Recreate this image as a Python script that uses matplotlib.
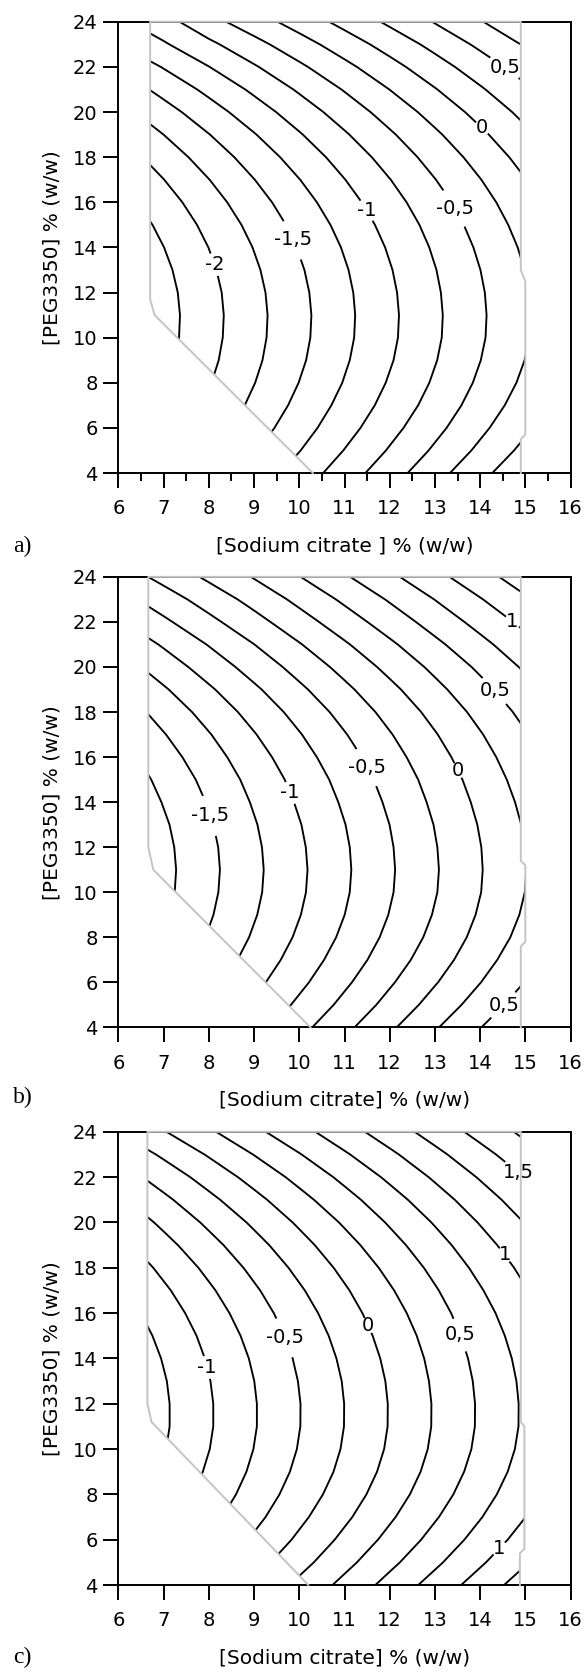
import numpy as np
import matplotlib
matplotlib.use("Agg")
import matplotlib.pyplot as plt
from matplotlib.patches import Polygon
from matplotlib.ticker import MultipleLocator

# response on a grid (rows: y = 4..24 step 1, cols: x = 6..16)
x_nodes = [6, 7, 8, 9, 10, 11, 12, 13, 14, 15, 16]
y_nodes = list(range(4, 25))

z_a = [
    [-2.210, -1.943, -1.675, -1.408, -1.141, -0.874, -0.606, -0.339, -0.072, 0.195, 0.463],
    [-2.316, -2.052, -1.787, -1.522, -1.258, -0.993, -0.728, -0.463, -0.199, 0.066, 0.331],
    [-2.406, -2.143, -1.881, -1.618, -1.356, -1.093, -0.830, -0.568, -0.305, -0.043, 0.220],
    [-2.479, -2.218, -1.957, -1.696, -1.435, -1.174, -0.914, -0.653, -0.392, -0.131, 0.130],
    [-2.535, -2.275, -2.015, -1.756, -1.496, -1.237, -0.977, -0.718, -0.458, -0.199, 0.061],
    [-2.574, -2.315, -2.056, -1.798, -1.539, -1.280, -1.022, -0.763, -0.504, -0.246, 0.013],
    [-2.596, -2.338, -2.079, -1.821, -1.563, -1.305, -1.047, -0.789, -0.531, -0.272, -0.014],
    [-2.601, -2.343, -2.085, -1.827, -1.569, -1.311, -1.053, -0.795, -0.537, -0.279, -0.021],
    [-2.588, -2.330, -2.073, -1.815, -1.557, -1.300, -1.042, -0.784, -0.527, -0.269, -0.011],
    [-2.557, -2.300, -2.043, -1.786, -1.529, -1.273, -1.016, -0.759, -0.502, -0.245, 0.012],
    [-2.508, -2.252, -1.997, -1.741, -1.485, -1.230, -0.974, -0.718, -0.462, -0.207, 0.049],
    [-2.441, -2.187, -1.933, -1.679, -1.425, -1.171, -0.917, -0.663, -0.408, -0.154, 0.100],
    [-2.356, -2.104, -1.852, -1.600, -1.348, -1.096, -0.844, -0.592, -0.340, -0.088, 0.164],
    [-2.253, -2.003, -1.754, -1.504, -1.255, -1.005, -0.756, -0.506, -0.257, -0.007, 0.243],
    [-2.132, -1.885, -1.638, -1.392, -1.145, -0.899, -0.652, -0.405, -0.159, 0.088, 0.334],
    [-1.992, -1.749, -1.506, -1.263, -1.019, -0.776, -0.533, -0.290, -0.047, 0.197, 0.440],
    [-1.835, -1.595, -1.356, -1.116, -0.877, -0.638, -0.398, -0.159, 0.080, 0.320, 0.559],
    [-1.659, -1.424, -1.189, -0.954, -0.719, -0.484, -0.248, -0.013, 0.222, 0.457, 0.692],
    [-1.465, -1.235, -1.004, -0.774, -0.544, -0.313, -0.083, 0.148, 0.378, 0.608, 0.839],
    [-1.253, -1.028, -0.803, -0.578, -0.352, -0.127, 0.098, 0.323, 0.549, 0.774, 0.999],
    [-1.050, -0.840, -0.584, -0.364, -0.145, 0.075, 0.295, 0.514, 0.734, 0.954, 1.173],
]
z_b = [
    [-1.645, -1.378, -1.110, -0.843, -0.576, -0.309, -0.041, 0.226, 0.493, 0.760, 1.028],
    [-1.759, -1.495, -1.230, -0.965, -0.701, -0.436, -0.171, 0.095, 0.359, 0.624, 0.889],
    [-1.856, -1.593, -1.331, -1.068, -0.806, -0.543, -0.280, -0.018, 0.245, 0.507, 0.770],
    [-1.937, -1.676, -1.415, -1.154, -0.893, -0.632, -0.372, -0.111, 0.151, 0.412, 0.673],
    [-2.000, -1.740, -1.480, -1.221, -0.961, -0.702, -0.442, -0.183, 0.077, 0.336, 0.596],
    [-2.044, -1.785, -1.526, -1.268, -1.009, -0.751, -0.492, -0.233, 0.026, 0.284, 0.543],
    [-2.071, -1.813, -1.554, -1.296, -1.038, -0.780, -0.522, -0.264, -0.006, 0.253, 0.511],
    [-2.079, -1.821, -1.563, -1.305, -1.047, -0.789, -0.531, -0.273, -0.015, 0.244, 0.502],
    [-2.068, -1.810, -1.553, -1.295, -1.037, -0.780, -0.522, -0.264, -0.007, 0.251, 0.509],
    [-2.040, -1.783, -1.526, -1.269, -1.012, -0.756, -0.499, -0.242, 0.016, 0.273, 0.530],
    [-1.993, -1.737, -1.482, -1.226, -0.970, -0.715, -0.459, -0.203, 0.053, 0.308, 0.564],
    [-1.934, -1.680, -1.426, -1.172, -0.918, -0.664, -0.410, -0.156, 0.100, 0.354, 0.608],
    [-1.856, -1.604, -1.352, -1.100, -0.848, -0.596, -0.344, -0.092, 0.160, 0.412, 0.664],
    [-1.763, -1.513, -1.264, -1.014, -0.765, -0.515, -0.266, -0.016, 0.233, 0.483, 0.733],
    [-1.652, -1.405, -1.158, -0.912, -0.665, -0.419, -0.172, 0.075, 0.321, 0.568, 0.814],
    [-1.520, -1.277, -1.034, -0.791, -0.547, -0.304, -0.061, 0.183, 0.426, 0.670, 0.913],
    [-1.370, -1.130, -0.891, -0.651, -0.412, -0.173, 0.067, 0.306, 0.545, 0.785, 1.024],
    [-1.207, -0.972, -0.737, -0.502, -0.265, -0.029, 0.208, 0.445, 0.681, 0.917, 1.153],
    [-1.025, -0.795, -0.564, -0.334, -0.102, 0.132, 0.365, 0.598, 0.831, 1.063, 1.297],
    [-0.843, -0.618, -0.393, -0.168, 0.063, 0.294, 0.524, 0.754, 0.985, 1.216, 1.446],
    [-0.643, -0.424, -0.204, 0.016, 0.243, 0.471, 0.699, 0.926, 1.154, 1.382, 1.609],
]
z_c = [
    [-0.997, -0.734, -0.470, -0.207, 0.057, 0.320, 0.584, 0.847, 1.111, 1.374, 1.638],
    [-1.134, -0.871, -0.609, -0.346, -0.084, 0.178, 0.441, 0.703, 0.966, 1.228, 1.490],
    [-1.251, -0.989, -0.728, -0.466, -0.205, 0.057, 0.318, 0.580, 0.841, 1.102, 1.364],
    [-1.348, -1.087, -0.827, -0.566, -0.305, -0.045, 0.216, 0.477, 0.737, 0.998, 1.258],
    [-1.426, -1.166, -0.906, -0.646, -0.386, -0.126, 0.134, 0.394, 0.654, 0.914, 1.174],
    [-1.484, -1.225, -0.965, -0.706, -0.446, -0.187, 0.073, 0.332, 0.592, 0.851, 1.111],
    [-1.523, -1.264, -1.005, -0.746, -0.486, -0.227, 0.032, 0.291, 0.550, 0.810, 1.069],
    [-1.543, -1.284, -1.025, -0.766, -0.506, -0.247, 0.012, 0.271, 0.530, 0.789, 1.048],
    [-1.543, -1.284, -1.025, -0.766, -0.507, -0.248, 0.011, 0.270, 0.529, 0.788, 1.047],
    [-1.526, -1.268, -1.009, -0.751, -0.492, -0.234, 0.025, 0.284, 0.542, 0.801, 1.059],
    [-1.493, -1.235, -0.977, -0.720, -0.462, -0.204, 0.054, 0.311, 0.569, 0.827, 1.085],
    [-1.443, -1.186, -0.930, -0.673, -0.417, -0.160, 0.097, 0.353, 0.610, 0.866, 1.123],
    [-1.376, -1.121, -0.866, -0.611, -0.356, -0.101, 0.154, 0.409, 0.663, 0.918, 1.173],
    [-1.293, -1.040, -0.787, -0.534, -0.281, -0.028, 0.225, 0.478, 0.731, 0.984, 1.237],
    [-1.193, -0.942, -0.692, -0.441, -0.190, 0.060, 0.311, 0.561, 0.812, 1.062, 1.313],
    [-1.076, -0.828, -0.580, -0.333, -0.085, 0.163, 0.411, 0.658, 0.906, 1.154, 1.402],
    [-0.942, -0.698, -0.453, -0.209, 0.036, 0.280, 0.525, 0.769, 1.014, 1.259, 1.503],
    [-0.792, -0.551, -0.310, -0.070, 0.172, 0.412, 0.653, 0.894, 1.135, 1.376, 1.617],
    [-0.626, -0.389, -0.152, 0.085, 0.322, 0.559, 0.796, 1.033, 1.270, 1.507, 1.744],
    [-0.442, -0.210, 0.023, 0.256, 0.488, 0.721, 0.953, 1.186, 1.418, 1.651, 1.884],
    [-0.242, -0.014, 0.214, 0.441, 0.669, 0.897, 1.125, 1.352, 1.580, 1.808, 2.036],
]

# experimental region (grey outline), starting at the bottom of the diagonal
reg_a_x = [10.3, 6.8, 6.7, 6.7, 14.9, 14.9, 15.0, 15.0, 14.9, 14.9]
reg_a_y = [4, 11.0, 11.7, 24, 24, 13.0, 12.5, 5.7, 5.5, 4]
reg_b_x = [10.25, 6.77, 6.66, 6.66, 14.9, 14.9, 15.0, 15.0, 14.9, 14.9]
reg_b_y = [4, 11.0, 12.0, 24, 24, 11.4, 11.2, 7.8, 7.6, 4]
reg_c_x = [10.2, 6.73, 6.64, 6.64, 14.9, 14.9, 14.98, 14.98, 14.88, 14.88]
reg_c_y = [4, 11.2, 12.0, 24, 24, 11.2, 11.0, 5.6, 5.4, 4]

# labelled lines every 0.5, unlabelled ones in between
levels_half = np.arange(-2.5, 2.01, 0.5)
levels_quarter = levels_half + 0.25

# where the labels sit (data coords)
lab_pos_a = [(8.06, 13.19), (9.79, 14.26), (11.44, 15.57), (13.4, 15.7),
             (14.03, 19.27), (14.5, 21.86)]
lab_pos_b = [(7.94, 13.34), (9.75, 14.37), (11.45, 15.5), (13.5, 15.4),
             (14.33, 18.96), (14.7, 21.97), (14.42, 5.19)]
lab_pos_c = [(7.87, 13.56), (9.70, 14.93), (11.56, 15.49), (13.62, 15.09),
             (14.70, 18.8), (14.86, 22.19), (14.32, 5.81)]

xlab_a = "[Sodium citrate ] % (w/w)"
xlab_bc = "[Sodium citrate] % (w/w)"
ylab = "[PEG3350] % (w/w)"


def fmt(v):
    return f"{v:g}".replace(".", ",")


fig = plt.figure(figsize=(5.84, 16.75), dpi=100)

panels = [
    (z_a, reg_a_x, reg_a_y, lab_pos_a, xlab_a, "a)", [0.2029, 0.7176, 0.774, 0.2694], 0.674),
    (z_b, reg_b_x, reg_b_y, lab_pos_b, xlab_bc, "b)", [0.2029, 0.3866, 0.774, 0.2690], 0.345),
    (z_c, reg_c_x, reg_c_y, lab_pos_c, xlab_bc, "c)", [0.2029, 0.0537, 0.774, 0.2706], 0.0107),
]

X, Y = np.meshgrid(x_nodes, y_nodes)

for i, (z, rx, ry, lpos, xlab, tag, rect, ty) in enumerate(panels):
    ax = fig.add_axes(rect)
    Z = np.array(z)
    clip = Polygon(np.column_stack([rx, ry]), closed=True, transform=ax.transData)

    cs_q = ax.contour(X, Y, Z, levels=levels_quarter, colors="k",
                      linewidths=1.35, linestyles="solid")
    cs_h = ax.contour(X, Y, Z, levels=levels_half, colors="k",
                      linewidths=1.35, linestyles="solid")
    cs_h.clabel(manual=lpos, inline=True, inline_spacing=2,
                fmt=fmt, fontsize=14, colors="k")
    for t in cs_h.labelTexts:
        t.set_rotation(0)
    cs_q.set_clip_path(clip)
    cs_h.set_clip_path(clip)

    # grey outline of the region, drawn over the top spine
    ax.plot(rx, ry, color="#c4c4c4", lw=1.4, zorder=3, clip_on=False)

    ax.set_xlim(6, 16)
    ax.set_ylim(4, 24)
    ax.set_xticks(range(6, 17))
    ax.set_yticks(range(4, 25, 2))
    if i == 0:
        ax.xaxis.set_minor_locator(MultipleLocator(0.5))
    for s in ax.spines.values():
        s.set_linewidth(1.4)
    ax.tick_params(which="major", direction="out", length=11, width=1.4,
                   labelsize=14, pad=4, top=False, right=False)
    ax.tick_params(axis="x", which="major", pad=8)
    ax.tick_params(which="minor", direction="out", length=6, width=1.4)
    ax.set_xlabel(xlab, fontsize=14.5, labelpad=13)
    ax.set_ylabel(ylab, fontsize=14.5, labelpad=8)
    fig.text(0.022, ty, tag, fontsize=17, family="Liberation Serif", va="center", ha="left")

fig.savefig("out.png", dpi=100)
